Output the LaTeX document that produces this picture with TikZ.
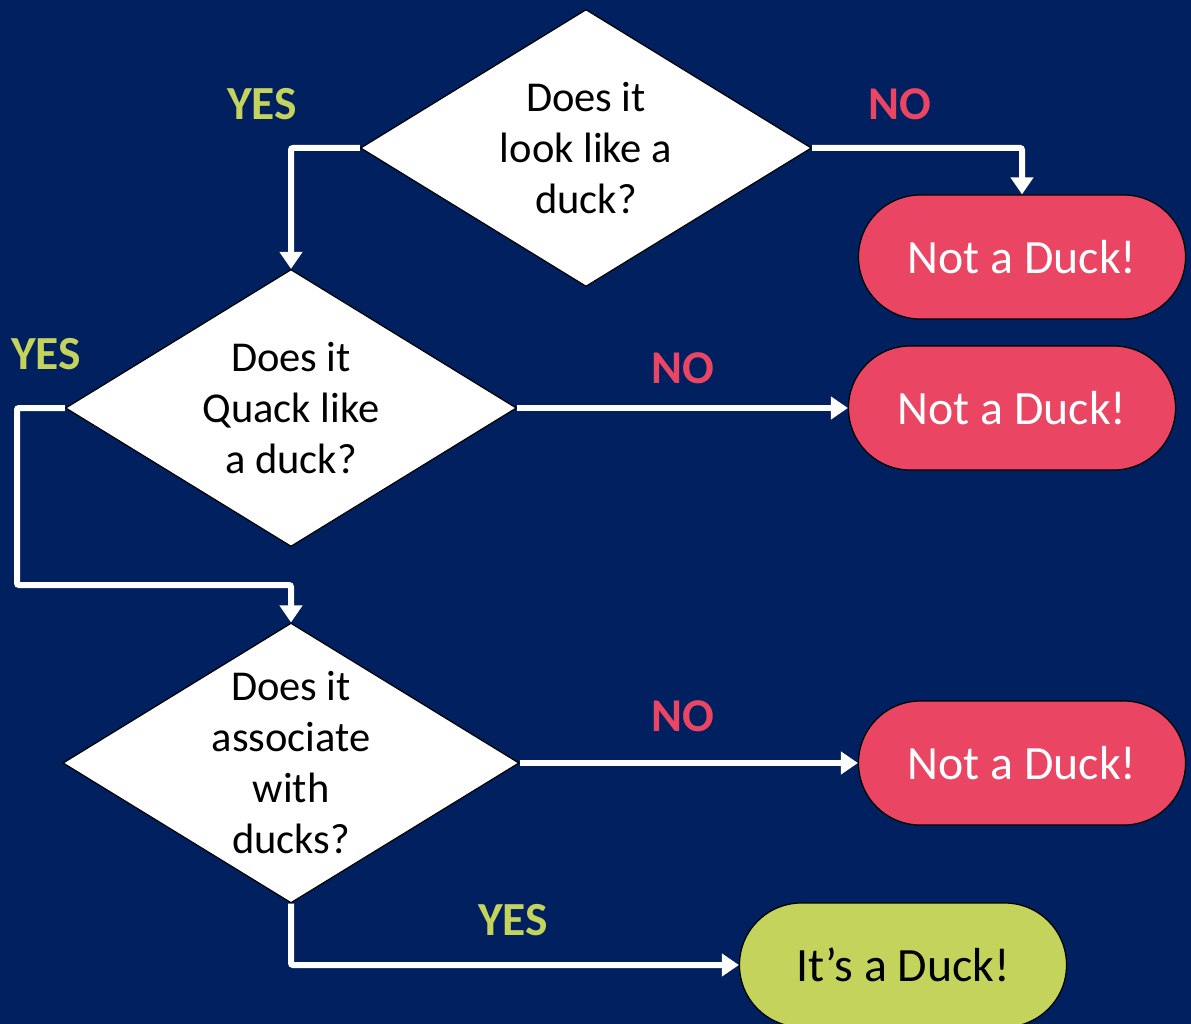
\documentclass[tikz,border=0pt]{standalone}
\usepackage{fontspec}
\setmainfont{Carlito}
\usetikzlibrary{shapes.geometric,arrows.meta}
\definecolor{navy}{HTML}{002060}
\definecolor{duckred}{HTML}{EA4664}
\definecolor{duckgreen}{HTML}{C4D35B}
\tikzset{
  question/.style={diamond, draw=black, line width=1.2pt, fill=white, inner sep=0pt,
    shape aspect=1.63, minimum width=451pt, minimum height=277pt, align=center,
    font=\fontsize{42.5}{51}\selectfont, text=black},
  endbox/.style={rectangle, rounded corners=61.9pt, draw=black, line width=1.2pt,
    minimum width=327pt, minimum height=124pt, inner sep=0pt,
    font=\fontsize{47.8}{52}\selectfont},
  nobox/.style={endbox, fill=duckred, text=white},
  yesbox/.style={endbox, fill=duckgreen, text=black},
  flow/.style={draw=white, line width=6pt, rounded corners=2pt,
    -{Triangle[length=17pt,width=22pt]}},
  yeslabel/.style={text=duckgreen, font=\fontsize{47.5}{50}\selectfont\bfseries},
  nolabel/.style={text=duckred, font=\fontsize{47}{50}\selectfont\bfseries},
}
\begin{document}
\begin{tikzpicture}[x=1pt,y=-1pt]
\fill[navy] (0,0) rectangle (1191,1024);
\useasboundingbox (0,0) rectangle (1191,1024);

\node[question] (d1) at (586,148) {Does it\\look like a\\duck?};
\node[question] (d2) at (291,408) {Does it\\Quack like\\a duck?};
\node[question] (d3) at (291,763) {Does it\\associate\\with\\ducks?};

\node[nobox] (t1) at (1022,257) {Not a Duck!};
\node[nobox] (t2) at (1012,408) {Not a Duck!};
\node[nobox] (t3) at (1022,763) {Not a Duck!};
\node[yesbox] (t4) at (903,965) {It’s a Duck!};

\coordinate (c1) at (17,585);

\draw[flow] (d1.west) -| (d2.north);
\draw[flow] (d1.east) -| (t1.north);
\draw[flow] (d2.east) -- (t2.west);
\draw[flow] (d2.west) -| (c1) -| (d3.north);
\draw[flow] (d3.east) -- (t3.west);
\draw[flow] (d3.south) |- (t4.west);

\node[yeslabel] (y1) at (262,104) {YES};
\node[nolabel] (n1) at (900,104) {NO};
\node[yeslabel] (y2) at (46,354) {YES};
\node[nolabel] (n2) at (683,368) {NO};
\node[nolabel] (n3) at (683,716) {NO};
\node[yeslabel] (y3) at (513,920) {YES};
\end{tikzpicture}
\end{document}
